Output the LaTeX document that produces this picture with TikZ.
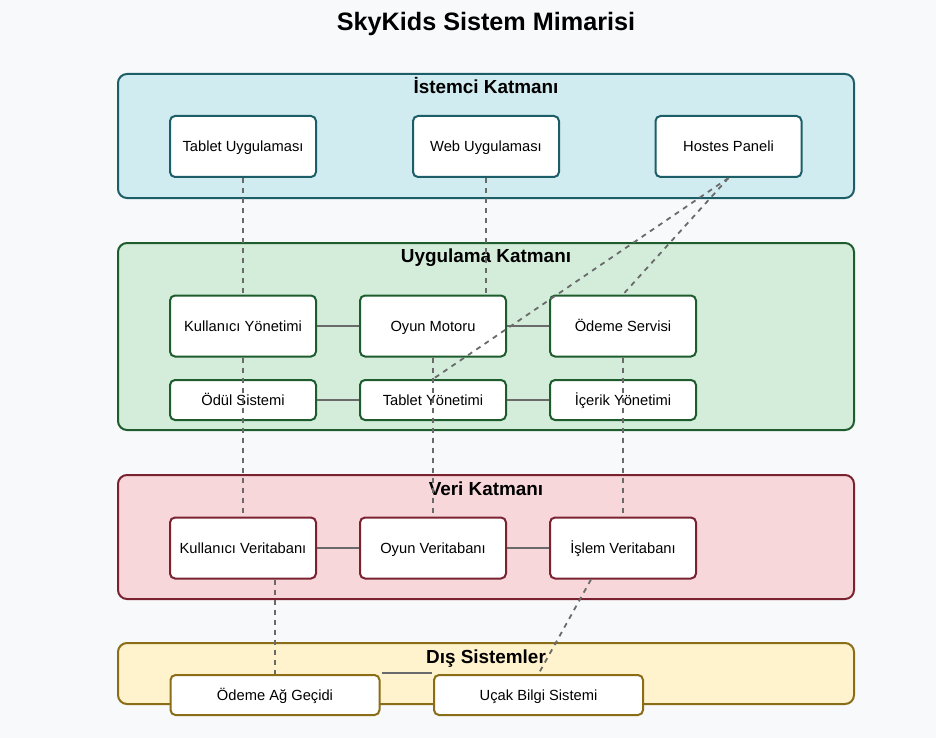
\documentclass[tikz,border=0pt]{standalone}
\usepackage{fontspec}
\setmainfont{Liberation Sans}
\usetikzlibrary{calc}
\definecolor{bgc}{HTML}{F8F9FA}
\definecolor{cFill}{HTML}{D1ECF1}\definecolor{cLine}{HTML}{1B5E68}
\definecolor{aFill}{HTML}{D4EDDA}\definecolor{aLine}{HTML}{1E5C2E}
\definecolor{dFill}{HTML}{F8D7DA}\definecolor{dLine}{HTML}{7A2230}
\definecolor{eFill}{HTML}{FFF3CD}\definecolor{eLine}{HTML}{8A6D16}
\definecolor{conn}{HTML}{6A6A6A}
\tikzset{
  layerbox/.style={draw, line width=2pt, rounded corners=9pt, minimum width=736pt, inner sep=0pt},
  layertitle/.style={font=\bfseries\fontsize{18.9}{22}\selectfont, inner sep=0pt, text height=17.1pt, text depth=4pt},
  comp/.style={draw, line width=2pt, fill=white, rounded corners=5pt, minimum width=146pt, minimum height=61pt, inner sep=0pt, font=\fontsize{14.7}{17}\selectfont, text height=13.3pt, text depth=3.1pt},
  compsm/.style={comp, minimum height=40pt},
  solidlink/.style={draw=conn, line width=1.8pt},
  dashlink/.style={draw=conn, line width=1.8pt, dash pattern=on 5pt off 5pt},
}
\begin{document}
\begin{tikzpicture}[x=1pt,y=-1pt]
\path[fill=bgc] (0,0) rectangle (936,738);
\useasboundingbox (0,0) rectangle (936,738);
\node[font=\bfseries\fontsize{25.2}{30}\selectfont, inner sep=0pt, text height=22.8pt, text depth=5.3pt] (title) at (486,22) {SkyKids Sistem Mimarisi};
% layers
\node[layerbox, fill=cFill, draw=cLine, minimum height=124pt] (lClient) at (486,136) {};
\node[layerbox, fill=aFill, draw=aLine, minimum height=187pt] (lApp) at (486,336.5) {};
\node[layerbox, fill=dFill, draw=dLine, minimum height=124pt] (lData) at (486,537) {};
\node[layerbox, fill=eFill, draw=eLine, minimum height=61pt] (lExt) at (486,673.5) {};
\node[layertitle] (tClient) at (486,87) {İstemci Katmanı};
\node[layertitle] (tApp) at (486,256) {Uygulama Katmanı};
\node[layertitle] (tData) at (486,489) {Veri Katmanı};
\node[layertitle] (tExt) at (486,657) {Dış Sistemler};
% client components
\node[comp, draw=cLine] (tab) at (243,146.5) {Tablet Uygulaması};
\node[comp, draw=cLine] (web) at (486,146.5) {Web Uygulaması};
\node[comp, draw=cLine] (hos) at (728.5,146.5) {Hostes Paneli};
% app components
\node[comp, draw=aLine] (kul) at (243,326) {Kullanıcı Yönetimi};
\node[comp, draw=aLine] (oyun) at (433,326) {Oyun Motoru};
\node[comp, draw=aLine] (odeme) at (623,326) {Ödeme Servisi};
\node[compsm, draw=aLine] (odul) at (243,400) {Ödül Sistemi};
\node[compsm, draw=aLine] (taby) at (433,400) {Tablet Yönetimi};
\node[compsm, draw=aLine] (icerik) at (623,400) {İçerik Yönetimi};
% data components
\node[comp, draw=dLine] (kdb) at (243,548) {Kullanıcı Veritabanı};
\node[comp, draw=dLine] (odb) at (433,548) {Oyun Veritabanı};
\node[comp, draw=dLine] (idb) at (623,548) {İşlem Veritabanı};
% external
\node[compsm, draw=eLine, minimum width=209pt] (gate) at (275,695) {Ödeme Ağ Geçidi};
\node[compsm, draw=eLine, minimum width=209pt] (ucak) at (538.5,695) {Uçak Bilgi Sistemi};
% solid links
\draw[solidlink] (kul.east) -- (oyun.west);
\draw[solidlink] (oyun.east) -- (odeme.west);
\draw[solidlink] (odul.east) -- (taby.west);
\draw[solidlink] (taby.east) -- (icerik.west);
\draw[solidlink] (kdb.east) -- (odb.west);
\draw[solidlink] (odb.east) -- (idb.west);
\draw[solidlink] ($(gate.north east)+(1,-1)$) -- ($(ucak.north west)+(-1,-1)$);
% dashed links
\draw[dashlink] (tab.south) -- (kul.north);
\draw[dashlink] (web.south) -- (web.south |- oyun.north);
\draw[dashlink] (hos.south) -- (odeme.north);
\draw[dashlink] (hos.south) -- (taby.north);
\draw[dashlink] (kul.south) -- (kdb.north);
\draw[dashlink] (oyun.south) -- (odb.north);
\draw[dashlink] (odeme.south) -- (idb.north);
\draw[dashlink] (gate.north |- kdb.south) -- (gate.north);
\draw[dashlink] ($(idb.south)+(-32,0)$) -- ($(ucak.north)+(0.5,-1)$);
\end{tikzpicture}
\end{document}
